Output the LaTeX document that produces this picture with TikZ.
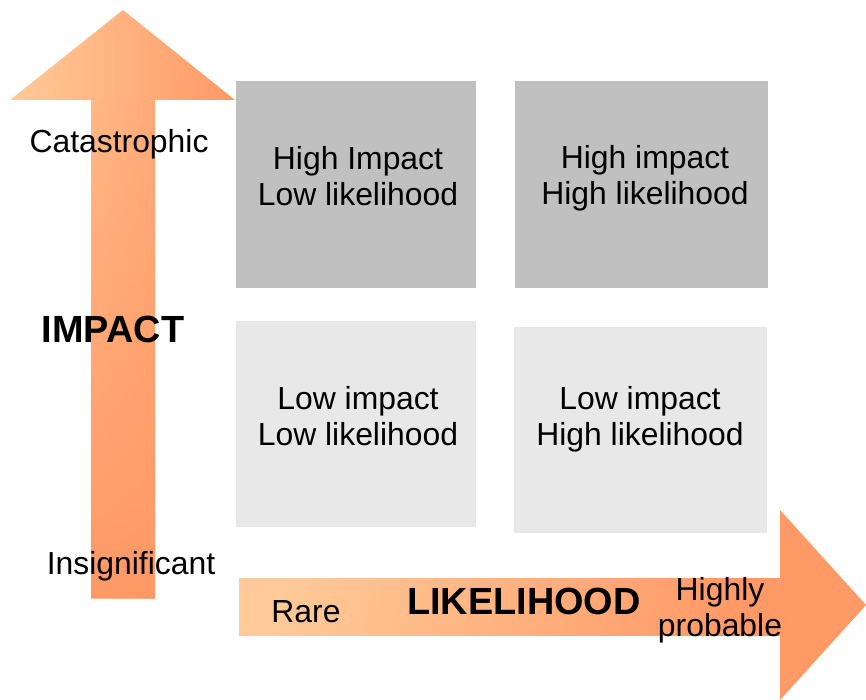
\documentclass[tikz,border=0pt]{standalone}
\usepackage{fontspec}
\setmainfont{Liberation Sans}
\usetikzlibrary{fadings}
\definecolor{oLight}{HTML}{FFCA98}
\definecolor{oDark}{HTML}{FF9966}
\definecolor{boxDark}{HTML}{C0C0C0}
\definecolor{boxLight}{HTML}{E8E8E8}
\begin{document}
\begin{tikzpicture}[x=1bp,y=-1bp,
  lbl/.style={font=\fontsize{32}{36}\selectfont, align=center, inner sep=0pt},
  qlbl/.style={lbl, anchor=north},
  blbl/.style={font=\fontsize{38}{40}\selectfont\bfseries, align=center, inner sep=0pt},
  quad/.style={draw=none, inner sep=0pt, anchor=north west}]
\useasboundingbox (0,0) rectangle (866,700);
% vertical arrow: head
\shade[left color=oLight, right color=oDark]
  (123,10) -- (235,100) -- (10,100) -- cycle;
% vertical arrow: shaft
\shade[left color=oDark!36!oLight, right color=oDark!64!oLight]
  (91,99.5) rectangle (155,598);
\fill[oDark, path fading=north] (91,99.5) rectangle (155,598);
% horizontal arrow: shaft
\shade[top color=oLight, bottom color=oDark, shading angle=78]
  (239,578) rectangle (780.5,635);
% horizontal arrow: head
\fill[oDark] (780,510) -- (866,605) -- (780,700) -- cycle;
% quadrants
\node[quad, fill=boxDark, minimum width=240bp, minimum height=207bp] (tl) at (236,81) {};
\node[quad, fill=boxDark, minimum width=253bp, minimum height=207bp] (tr) at (515,81) {};
\node[quad, fill=boxLight, minimum width=240bp, minimum height=206bp] (bl) at (236,321) {};
\node[quad, fill=boxLight, minimum width=253bp, minimum height=206bp] (br) at (514,327) {};
\node[qlbl] (tlt) at (358,146) {High Impact\\Low likelihood};
\node[qlbl] (trt) at (645,145.5) {High impact\\High likelihood};
\node[qlbl] (blt) at (358,386.5) {Low impact\\Low likelihood};
\node[qlbl] (brt) at (640,386.5) {Low impact\\High likelihood};
% axis labels
\node[lbl] (cat) at (119,144) {Catastrophic};
\node[blbl] (imp) at (113,329) {IMPACT};
\node[lbl] (ins) at (131,566) {Insignificant};
\node[lbl] (rare) at (306,612) {Rare};
\node[blbl] (lik) at (524,601) {LIKELIHOOD};
\node[lbl] (hp) at (720,610.5) {Highly\\probable};
\end{tikzpicture}
\end{document}
